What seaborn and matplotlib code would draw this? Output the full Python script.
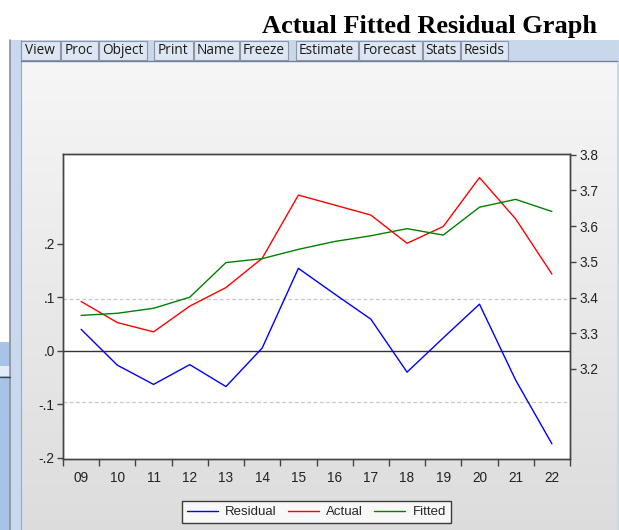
import numpy as np
import pandas as pd
import matplotlib
matplotlib.use("Agg")
import matplotlib.pyplot as plt
from matplotlib.patches import Rectangle
from matplotlib.lines import Line2D
import seaborn as sns

# ---------------- data ----------------
years = ["09", "10", "11", "12", "13", "14", "15", "16", "17", "18", "19", "20", "21", "22"]
actual = [3.389, 3.330, 3.304, 3.376, 3.428, 3.510, 3.687, 3.659, 3.631, 3.552, 3.599, 3.736, 3.620, 3.466]
fitted = [3.350, 3.356, 3.370, 3.401, 3.498, 3.509, 3.535, 3.557, 3.573, 3.593, 3.575, 3.653, 3.675, 3.641]
residual = [0.040, -0.027, -0.063, -0.026, -0.067, 0.005, 0.154, 0.106, 0.059, -0.040, 0.024, 0.087, -0.055, -0.174]
resid_se = 0.096
left_ticks = [-0.2, -0.1, 0.0, 0.1, 0.2]
left_labels = ["-.2", "-.1", ".0", ".1", ".2"]
right_ticks = [3.2, 3.3, 3.4, 3.5, 3.6, 3.7, 3.8]
right_labels = ["3.2", "3.3", "3.4", "3.5", "3.6", "3.7", "3.8"]
buttons = ["View", "Proc", "Object", "Print", "Name", "Freeze", "Estimate", "Forecast", "Stats", "Resids"]
button_edges = [(20.5, 60), (60, 98), (98, 147), (153, 193), (193, 239), (239, 288),
                (295, 358), (358, 422), (422, 460), (460, 508.5)]

df = pd.DataFrame({"t": np.arange(len(years)), "year": years, "Actual": actual,
                   "Fitted": fitted, "Residual": residual})

sns.set_theme(style="white")
plt.rcParams["font.family"] = ["Liberation Sans", "DejaVu Sans"]

W, H = 619, 530
fig = plt.figure(figsize=(W / 100, H / 100), dpi=100)
fig.patch.set_facecolor("white")

# ---------------- window chrome (pixel coordinates) ----------------
bg = fig.add_axes([0, 0, 1, 1], zorder=0)
bg.set_xlim(0, W)
bg.set_ylim(H, 0)
bg.axis("off")

# content gradient
grad = np.linspace(0, 1, 256).reshape(-1, 1)
top_c = np.array([0.965, 0.965, 0.965])
bot_c = np.array([0.865, 0.865, 0.865])
img = top_c[None, None, :] * (1 - grad[:, :, None]) + bot_c[None, None, :] * grad[:, :, None]
bg.imshow(img, extent=[21, 617, H, 61], aspect="auto", zorder=1)

# left strip
bg.add_patch(Rectangle((10, 40), 11, H - 40, facecolor="#c7d8ef", edgecolor="none", zorder=2))
bg.add_line(Line2D([10, 10], [40, H], color="#8a8f98", lw=1.2, zorder=3))
bg.add_line(Line2D([20.5, 20.5], [40, H], color="#9aa9bd", lw=0.8, zorder=3))
bg.add_patch(Rectangle((0, 342), 9.5, H - 342, facecolor="#a9c3e8", edgecolor="none", zorder=2))
bg.add_patch(Rectangle((0, 366), 9.5, 10, facecolor="#e4ecf7", edgecolor="none", zorder=2))
bg.add_line(Line2D([0, 9.5], [377, 377], color="#404850", lw=1, zorder=3))
# right strip
bg.add_patch(Rectangle((617, 40), 2, H - 40, facecolor="#c7d8ef", edgecolor="none", zorder=2))

# toolbar
bg.add_patch(Rectangle((21, 40), 596, 21, facecolor="#c9d7ea", edgecolor="none", zorder=2))
bg.add_line(Line2D([21, 617], [61, 61], color="#6d7f99", lw=1, zorder=3))
for name, (x0, x1) in zip(buttons, button_edges):
    bg.add_patch(Rectangle((x0 + 0.5, 41), x1 - x0 - 1, 19, facecolor="#dde6f2",
                           edgecolor="#8b96a6", lw=0.8, zorder=3))
    bg.text((x0 + x1) / 2, 51, name, ha="center", va="center", fontsize=9.8,
            family=["Open Sans", "DejaVu Sans"], color="#1a1a1a", zorder=4)

# title
fig.text(597 / W, 1 - 33 / H, "Actual Fitted Residual Graph", ha="right", va="baseline",
         fontsize=19, fontweight="bold", family=["Liberation Serif", "DejaVu Serif"], color="black")

# ---------------- chart ----------------
L, R, T, B = 63, 570, 154, 459
ax = fig.add_axes([L / W, 1 - B / H, (R - L) / W, (B - T) / H], zorder=5)
ax.set_facecolor("white")
ax2 = ax.twinx()

ax.set_xlim(-0.5, len(years) - 0.5)
ax.set_ylim(-0.2024, 0.3677)
ax2.set_ylim(2.948, 3.802)

ax.axhline(0, color="#333333", lw=1.0, zorder=1)
ax.axhline(resid_se, color="#c8c8c8", lw=0.9, ls=(0, (3, 2)), zorder=1)
ax.axhline(-resid_se, color="#c8c8c8", lw=0.9, ls=(0, (3, 2)), zorder=1)

sns.lineplot(data=df, x="t", y="Residual", ax=ax, color="#0000ff", lw=1.0, zorder=3)
sns.lineplot(data=df, x="t", y="Actual", ax=ax2, color="#ff0000", lw=1.0, zorder=3)
sns.lineplot(data=df, x="t", y="Fitted", ax=ax2, color="#008000", lw=1.0, zorder=3)

for a in (ax, ax2):
    a.set_xlabel("")
    a.set_ylabel("")
    for s in a.spines.values():
        s.set_color("#444444")
        s.set_linewidth(1.0)
    a.grid(False)

ax.set_yticks(left_ticks)
ax.set_yticklabels(left_labels)
ax2.set_yticks(right_ticks)
ax2.set_yticklabels(right_labels)

ax.set_xticks(df["t"])
ax.set_xticklabels(years)
ax.set_xticks(np.arange(-0.5, len(years)), minor=True)
ax.tick_params(axis="x", which="major", length=0, pad=9, labelsize=9.8, labelcolor="#222222")
ax.tick_params(axis="x", which="minor", length=5, width=1, color="#444444", direction="out", bottom=True)
ax.tick_params(axis="y", which="both", length=4, width=1, color="#444444", direction="out",
               labelsize=9.8, labelcolor="#222222", pad=2, left=True)
ax2.tick_params(axis="y", length=4, width=1, color="#444444", direction="out",
                labelsize=9.8, labelcolor="#222222", pad=3, right=True)

# legend
handles = [Line2D([0], [0], color="#0000ff", lw=1.0),
           Line2D([0], [0], color="#ff0000", lw=1.0),
           Line2D([0], [0], color="#008000", lw=1.0)]
leg = fig.legend(handles, ["Residual", "Actual", "Fitted"], loc="center",
                 bbox_to_anchor=(316.5 / W, 1 - 512 / H), ncol=3, frameon=True,
                 fontsize=9.5, handlelength=2.35, handletextpad=0.57, columnspacing=0.83,
                 borderpad=0.35, fancybox=False)
leg.get_frame().set_edgecolor("#111111")
leg.get_frame().set_linewidth(1.0)
leg.get_frame().set_facecolor("white")
leg.set_zorder(10)

fig.savefig("out.png", dpi=100)
